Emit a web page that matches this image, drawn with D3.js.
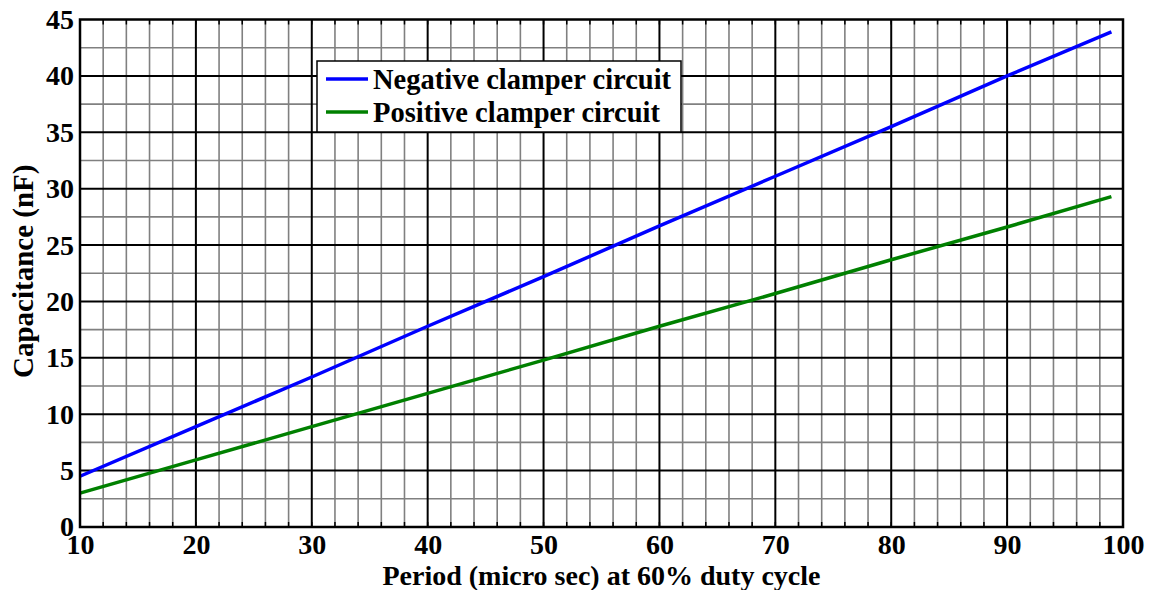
<!DOCTYPE html>
<html>
<head>
<meta charset="utf-8">
<script src="https://cdn.jsdelivr.net/npm/d3@7"></script>
<style>
  body { margin: 0; background: #fff; }
  svg text { font-family: "Liberation Serif", "Times New Roman", serif; font-weight: bold; }
</style>
</head>
<body>
<svg id="chart" width="1149" height="590"></svg>
<script>
// data
var periods = [10, 20, 30, 40, 50, 60, 70, 80, 90, 99];
var negativeClamper = [4.5, 8.9, 13.3, 17.8, 22.2, 26.7, 31.1, 35.5, 40.0, 43.9];
var positiveClamper = [3.0, 5.95, 8.9, 11.85, 14.8, 17.8, 20.7, 23.7, 26.6, 29.3];
var xTicks = [10, 20, 30, 40, 50, 60, 70, 80, 90, 100];
var yTicks = [0, 5, 10, 15, 20, 25, 30, 35, 40, 45];
var seriesNames = ['Negative clamper circuit', 'Positive clamper circuit'];
var seriesColors = ['#0000ff', '#008000'];

var svg = d3.select('#chart');
var margin = {top: 19.5, right: 26, bottom: 63, left: 80};
var width = 1149 - margin.left - margin.right,
    height = 590 - margin.top - margin.bottom;

var g = svg.append('g')
    .attr('transform', 'translate(' + margin.left + ',' + margin.top + ')');

var xScale = d3.scaleLinear().domain([10, 100]).range([0, width]);
var yScale = d3.scaleLinear().domain([0, 45]).range([height, 0]);

// minor grid
g.append('g').selectAll('line')
    .data(d3.range(12, 100, 2).filter(d => d % 10 !== 0))
    .enter().append('line')
    .attr('x1', d => xScale(d)).attr('x2', d => xScale(d))
    .attr('y1', 0).attr('y2', height)
    .attr('stroke', '#808080').attr('stroke-width', 1.6);
g.append('g').selectAll('line')
    .data(d3.range(2.5, 45, 5))
    .enter().append('line')
    .attr('x1', 0).attr('x2', width)
    .attr('y1', d => yScale(d)).attr('y2', d => yScale(d))
    .attr('stroke', '#808080').attr('stroke-width', 1.6);

// major grid
g.append('g').selectAll('line')
    .data(xTicks.slice(1, -1))
    .enter().append('line')
    .attr('x1', d => xScale(d)).attr('x2', d => xScale(d))
    .attr('y1', 0).attr('y2', height)
    .attr('stroke', '#000').attr('stroke-width', 2);
g.append('g').selectAll('line')
    .data(yTicks.slice(1, -1))
    .enter().append('line')
    .attr('x1', 0).attr('x2', width)
    .attr('y1', d => yScale(d)).attr('y2', d => yScale(d))
    .attr('stroke', '#000').attr('stroke-width', 2);

// small inner ticks
var minorX = d3.range(12, 100, 2);
g.append('g').selectAll('line')
    .data(minorX)
    .enter().append('line')
    .attr('x1', d => xScale(d)).attr('x2', d => xScale(d))
    .attr('y1', height).attr('y2', height - 5)
    .attr('stroke', '#000').attr('stroke-width', 1.5);
g.append('g').selectAll('line')
    .data(minorX)
    .enter().append('line')
    .attr('x1', d => xScale(d)).attr('x2', d => xScale(d))
    .attr('y1', 0).attr('y2', 5)
    .attr('stroke', '#000').attr('stroke-width', 1.5);

// data lines
var line = d3.line()
    .x((d, i) => xScale(periods[i]))
    .y(d => yScale(d));
[negativeClamper, positiveClamper].forEach(function (s, i) {
    g.append('path')
        .attr('d', line(s))
        .attr('fill', 'none')
        .attr('stroke', seriesColors[i])
        .attr('stroke-width', 3.5);
});

// frame
g.append('rect')
    .attr('width', width).attr('height', height)
    .attr('fill', 'none').attr('stroke', '#000').attr('stroke-width', 2.5);

// axes labels (ticks)
var xAxis = g.append('g')
    .attr('transform', 'translate(0,' + height + ')')
    .call(d3.axisBottom(xScale).tickValues(xTicks).tickSize(0).tickPadding(7));
xAxis.select('.domain').remove();
xAxis.selectAll('text').attr('font-size', '28px').attr('fill', '#000');

var yAxis = g.append('g')
    .call(d3.axisLeft(yScale).tickValues(yTicks).tickSize(0).tickPadding(6));
yAxis.select('.domain').remove();
yAxis.selectAll('text').attr('font-size', '28px').attr('fill', '#000');
yAxis.selectAll('.tick').filter(d => d === 0).select('text').attr('dy', '0.3em');

// axis titles
svg.append('text')
    .attr('x', margin.left + width / 2)
    .attr('y', 585)
    .attr('text-anchor', 'middle')
    .attr('font-size', '28px')
    .text('Period (micro sec) at 60% duty cycle');

svg.append('text')
    .attr('transform', 'translate(33,' + (margin.top + height / 2 - 2) + ') rotate(-90)')
    .attr('text-anchor', 'middle')
    .attr('font-size', '29px')
    .text('Capacitance (nF)');

// legend
var legend = svg.append('g').attr('transform', 'translate(317,61)');
legend.append('rect')
    .attr('width', 364).attr('height', 71)
    .attr('fill', '#fff').attr('stroke', '#000').attr('stroke-width', 1.5);
seriesNames.forEach(function (name, i) {
    var yy = 18 + i * 33;
    legend.append('line')
        .attr('x1', 9).attr('x2', 51)
        .attr('y1', yy).attr('y2', yy)
        .attr('stroke', seriesColors[i]).attr('stroke-width', 3.5);
    legend.append('text')
        .attr('x', 56).attr('y', yy + 10)
        .attr('font-size', '28.5px')
        .text(name);
});
</script>
</body>
</html>
